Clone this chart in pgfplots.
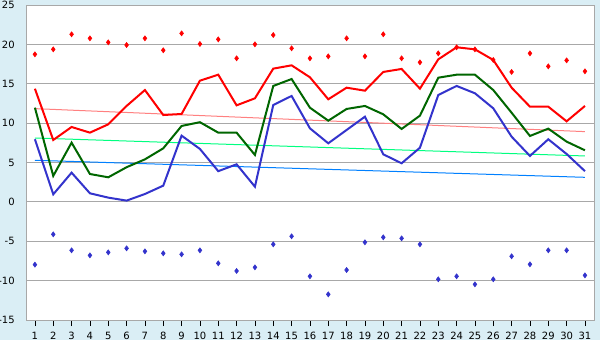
\documentclass[border=0pt]{standalone}
\usepackage{pgfplots}
\pgfplotsset{compat=1.18}
\usepackage{fontspec}
\setmainfont{DejaVu Sans}
\definecolor{bgc}{HTML}{DAEEF5}
\definecolor{gridc}{HTML}{A8A8A8}
\definecolor{rmax}{HTML}{FF0000}
\definecolor{gmean}{HTML}{006600}
\definecolor{bmin}{HTML}{3333CC}
\definecolor{rtr}{HTML}{FF8080}
\definecolor{gtr}{HTML}{00FF80}
\definecolor{btr}{HTML}{0080FF}
\begin{document}
\begin{tikzpicture}
\fill[bgc] (0,0) rectangle (450pt,255pt);
\begin{axis}[
  at={(20pt,15pt)}, anchor=south west,
  scale only axis, width=426pt, height=236.25pt,
  xmin=0.55, xmax=31.53, ymin=-15, ymax=25,
  xtick={1,...,31}, ytick={-15,-10,...,25},
  axis background/.style={fill=white},
  axis line style={gridc},
  ymajorgrids, major grid style={gridc, line width=0.75pt},
  tick style={black, line width=0.6pt},
  xtick pos=bottom, ytick pos=left, tick align=outside,
  major tick length=4.5pt,
  y tick style={draw=none},
  tick label style={font=\fontsize{7.5}{9}\selectfont, text=black},
  /pgf/number format/assume math mode=true,
  yticklabel style={xshift=-1pt},
  xticklabel style={yshift=-1pt},
  clip=true,
]
% trend lines
\addplot[rtr, line width=0.75pt] coordinates {(1,11.84) (31,8.92)};
\addplot[gtr, line width=0.75pt] coordinates {(1,8.11) (31,5.83)};
\addplot[btr, line width=0.75pt] coordinates {(1,5.28) (31,3.12)};
% record highs
\addplot[only marks, mark=diamond*, mark size=1.9pt, rmax, mark options={fill=rmax, draw=rmax}] coordinates {
(1,18.74) (2,19.37) (3,21.28) (4,20.77) (5,20.26) (6,19.92) (7,20.77) (8,19.25) (9,21.40) (10,20.05)
(11,20.64) (12,18.23) (13,20.01) (14,21.19) (15,19.50) (16,18.23) (17,18.48) (18,20.77) (19,18.48) (20,21.28)
(21,18.23) (22,17.72) (23,18.86) (24,19.63) (25,19.37) (26,18.02) (27,16.50) (28,18.86) (29,17.21) (30,17.97) (31,16.58)};
% record lows
\addplot[only marks, mark=diamond*, mark size=1.9pt, bmin, mark options={fill=bmin, draw=bmin}] coordinates {
(1,-7.97) (2,-4.12) (3,-6.15) (4,-6.79) (5,-6.41) (6,-5.90) (7,-6.28) (8,-6.53) (9,-6.66) (10,-6.15)
(11,-7.80) (12,-8.77) (13,-8.31) (14,-5.39) (15,-4.37) (16,-9.45) (17,-11.74) (18,-8.65) (19,-5.13) (20,-4.50)
(21,-4.63) (22,-5.39) (23,-9.83) (24,-9.45) (25,-10.47) (26,-9.83) (27,-6.91) (28,-7.93) (29,-6.15) (30,-6.15) (31,-9.33)};
% max
\addplot[rmax, line width=1.5pt] coordinates {
(1,14.37) (2,7.86) (3,9.51) (4,8.79) (5,9.85) (6,12.18) (7,14.20) (8,11.03) (9,11.16) (10,15.39)
(11,16.15) (12,12.26) (13,13.15) (14,16.92) (15,17.34) (16,15.82) (17,13.03) (18,14.50) (19,14.12) (20,16.50)
(21,16.88) (22,14.38) (23,18.10) (24,19.63) (25,19.37) (26,18.02) (27,14.50) (28,12.09) (29,12.09) (30,10.23) (31,12.18)};
% mean
\addplot[gmean, line width=1.5pt] coordinates {
(1,11.96) (2,3.30) (3,7.52) (4,3.54) (5,3.12) (6,4.40) (7,5.40) (8,6.80) (9,9.64) (10,10.12)
(11,8.79) (12,8.79) (13,5.96) (14,14.72) (15,15.60) (16,11.96) (17,10.31) (18,11.80) (19,12.18) (20,11.12)
(21,9.26) (22,10.95) (23,15.77) (24,16.15) (25,16.15) (26,14.20) (27,11.32) (28,8.37) (29,9.30) (30,7.65) (31,6.55)};
% min
\addplot[bmin, line width=1.5pt] coordinates {
(1,7.95) (2,0.96) (3,3.71) (4,1.09) (5,0.54) (6,0.16) (7,1.00) (8,2.06) (9,8.41) (10,6.72)
(11,3.90) (12,4.77) (13,1.93) (14,12.30) (15,13.45) (16,9.34) (17,7.44) (18,9.13) (19,10.82) (20,6.04)
(21,4.90) (22,6.88) (23,13.57) (24,14.72) (25,13.79) (26,11.88) (27,8.28) (28,5.83) (29,7.95) (30,6.08) (31,3.90)};
\end{axis}
\pgfresetboundingbox
\path[use as bounding box] (0,0) rectangle (450pt,255pt);
\end{tikzpicture}
\end{document}
